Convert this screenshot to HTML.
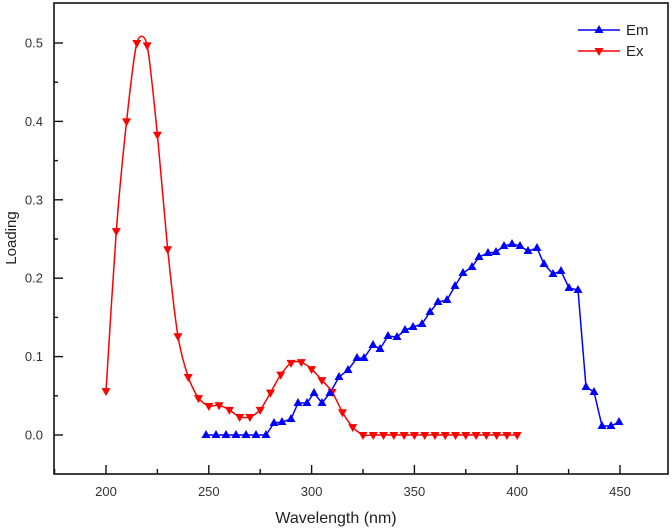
<!DOCTYPE html>
<html><head><meta charset="utf-8"><style>
html,body{margin:0;padding:0;background:#fff;}
svg{display:block;font-family:"Liberation Sans",Arial,sans-serif;}
</style></head><body>
<svg id="s" width="672" height="528" viewBox="0 0 672 528" xmlns="http://www.w3.org/2000/svg">
<rect x="54" y="3" width="614" height="471" fill="none" stroke="#111" stroke-width="1.6"/>
<g id="ticks" stroke="#111" stroke-width="1.4"></g>
<g font-size="13" fill="#333" text-anchor="end" id="yl"></g>
<g font-size="13" fill="#333" text-anchor="middle" id="xl"></g>
<text x="336" y="523" font-size="16" fill="#222" text-anchor="middle">Wavelength (nm)</text>
<text transform="translate(16,238) rotate(-90)" font-size="15" fill="#222" text-anchor="middle">Loading</text>
<path id="exl" fill="none" stroke="#f00" stroke-width="1.5"/>
<polyline id="eml" fill="none" stroke="#00f" stroke-width="1.5"/>
<g id="exm" fill="#f00"></g>
<g id="emm" fill="#00f"></g>
<line x1="578" y1="30" x2="620" y2="30" stroke="#00f" stroke-width="1.5"/>
<polygon points="599,25 594.5,33 603.5,33" fill="#00f"/>
<text x="626" y="35" font-size="15" fill="#222">Em</text>
<line x1="578" y1="51" x2="620" y2="51" stroke="#f00" stroke-width="1.5"/>
<polygon points="599,56 594.5,48 603.5,48" fill="#f00"/>
<text x="626" y="56" font-size="15" fill="#222">Ex</text>
</svg>
<script>
var NS="http://www.w3.org/2000/svg";
function el(p,t,a){var e=document.createElementNS(NS,t);for(var k in a)e.setAttribute(k,a[k]);document.getElementById(p).appendChild(e);return e;}
function X(l){return 106+(l-200)*2.056;}
function Y(v){return 435-v*784;}
for(var i=0;i<=5;i++){var y=Y(i/10);el("ticks","line",{x1:54,x2:63,y1:y,y2:y});var t=el("yl","text",{x:43,y:y+4.5});t.textContent=(i/10).toFixed(1);}
for(var i=0;i<5;i++){var y=Y(i/10+0.05);el("ticks","line",{x1:54,x2:58,y1:y,y2:y});}
for(var l=200;l<=450;l+=50){var x=X(l);el("ticks","line",{x1:x,x2:x,y1:474,y2:465});var t=el("xl","text",{x:x,y:496});t.textContent=l;}
for(var l=175;l<=475;l+=50){var x=X(l);if(x>54&&x<668)el("ticks","line",{x1:x,x2:x,y1:474,y2:469});}
var ex=[0.056,0.26,0.40,0.50,0.497,0.383,0.237,0.126,0.074,0.047,0.037,0.038,0.032,0.023,0.023,0.032,0.054,0.077,0.092,0.093,0.084,0.070,0.055,0.029,0.010];
while(ex.length<41)ex.push(0);
var P=ex.map(function(v,k){return [X(200+5*k),Y(v)];});
var d="M"+P[0][0]+","+P[0][1];
var T=8;
for(var i=0;i<P.length-1;i++){var p0=P[i-1]||P[i],p1=P[i],p2=P[i+1],p3=P[i+2]||P[i+1];
d+=" C"+(p1[0]+(p2[0]-p0[0])/T)+","+(p1[1]+(p2[1]-p0[1])/T)+" "+(p2[0]-(p3[0]-p1[0])/T)+","+(p2[1]-(p3[1]-p1[1])/T)+" "+p2[0]+","+p2[1];}
document.getElementById("exl").setAttribute("d",d);
P.forEach(function(p){el("exm","polygon",{points:(p[0])+","+(p[1]+5)+" "+(p[0]-4.5)+","+(p[1]-3)+" "+(p[0]+4.5)+","+(p[1]-3)});});
var em=[[206,435],[216,435],[226,435],[236,435],[246,435],[256,435],[266,435],[274,423],[282,422],[291,419],[298,403],[307,403],[314,393],[322,403],[330,393],[339,377],[348,370],[357,358],[364,358],[373,345],[380,349],[388,336],[397,337],[405,330],[413,327],[422,324],[430,312],[438,302],[447,300],[455,286],[463,273],[472,267],[479,257],[488,253],[496,252],[504,246],[512,244],[520,246],[528,251],[537,248],[544,264],[553,274],[561,271],[569,288],[578,290],[586,387],[594,392],[602,426],[611,426],[619,422]];
document.getElementById("eml").setAttribute("points",em.map(function(p){return p.join(",")}).join(" "));
em.forEach(function(p){el("emm","polygon",{points:(p[0])+","+(p[1]-5)+" "+(p[0]-4.5)+","+(p[1]+3)+" "+(p[0]+4.5)+","+(p[1]+3)});});
</script>
</body></html>
